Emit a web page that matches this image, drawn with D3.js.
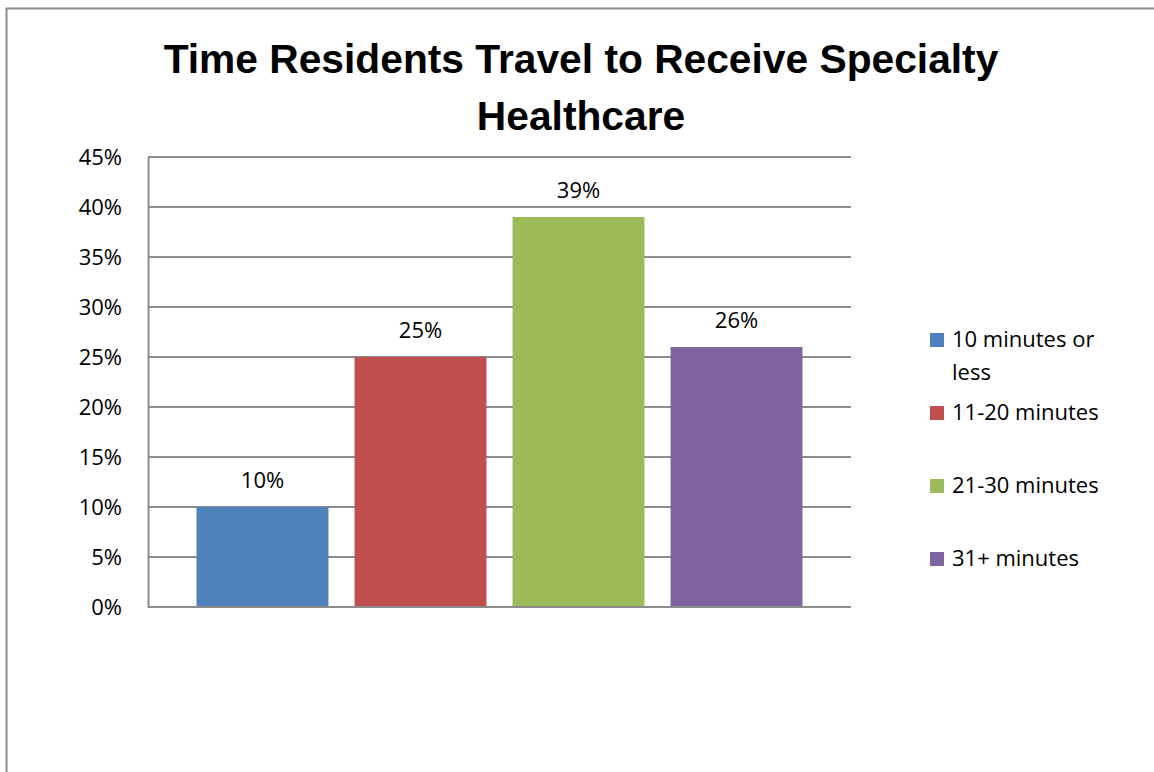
<!DOCTYPE html>
<html>
<head>
<meta charset="utf-8">
<title>Time Residents Travel to Receive Specialty Healthcare</title>
<script src="https://d3js.org/d3.v7.min.js"></script>
<style>
body {
    margin: 0;
    background: #fff;
    font-family: "Open Sans", "Liberation Sans", Arial, sans-serif;
}
svg text { fill: #000; }
</style>
</head>
<body>
<svg id="chart"></svg>
<script>
// chart data
var titleLines = ["Time Residents Travel to Receive Specialty", "Healthcare"];
var series = ["10 minutes or less", "11-20 minutes", "21-30 minutes", "31+ minutes"];
var legendLines = [["10 minutes or", "less"], ["11-20 minutes"], ["21-30 minutes"], ["31+ minutes"]];
var values = [0.10, 0.25, 0.39, 0.26];
var colors = ["#4F81BD", "#C0504D", "#9BBB59", "#8064A2"];
var yTicks = [0, 0.05, 0.10, 0.15, 0.20, 0.25, 0.30, 0.35, 0.40, 0.45];

var width = 1154, height = 772;
var plot = { left: 148, right: 851, top: 157, bottom: 607 };
var labelFont = '"Open Sans", "Liberation Sans", sans-serif';
var labelSize = '22px';

var svg = d3.select('#chart')
    .attr('width', width)
    .attr('height', height);

// outer chart border (runs off the bottom/right of the picture)
svg.append('rect')
    .attr('x', 6.5).attr('y', 8.5)
    .attr('width', width + 10).attr('height', height + 10)
    .attr('fill', '#fff')
    .attr('stroke', '#8c8c8c')
    .attr('stroke-width', 2);

// title, font size fitted so the first line spans the same width as the original
var title = svg.append('g');
var t1 = title.append('text')
    .attr('x', 581).attr('y', 73)
    .attr('text-anchor', 'middle')
    .style('font-family', '"Liberation Sans", Arial, sans-serif')
    .style('font-weight', 'bold')
    .style('font-size', '36px')
    .text(titleLines[0]);
var fs = 36 * 835 / t1.node().getComputedTextLength();
t1.style('font-size', fs + 'px');
title.append('text')
    .attr('x', 581).attr('y', 130)
    .attr('text-anchor', 'middle')
    .style('font-family', '"Liberation Sans", Arial, sans-serif')
    .style('font-weight', 'bold')
    .style('font-size', fs + 'px')
    .text(titleLines[1]);

// scales
var x = d3.scaleBand()
    .domain(series)
    .range([plot.left, plot.right])
    .paddingInner(0.165)
    .paddingOuter(0.307);

var y = d3.scaleLinear()
    .domain([0, 0.45])
    .range([plot.bottom, plot.top]);

// gridlines
svg.append('g')
    .selectAll('line')
    .data(yTicks)
    .enter().append('line')
    .attr('x1', plot.left).attr('x2', plot.right)
    .attr('y1', function (d) { return Math.round(y(d)); })
    .attr('y2', function (d) { return Math.round(y(d)); })
    .attr('stroke', '#8c8c8c')
    .attr('stroke-width', 2);

// y axis labels
var yAxis = d3.axisLeft(y)
    .tickValues(yTicks)
    .tickSize(0)
    .tickPadding(26)
    .tickFormat(d3.format('.0%'));

var ya = svg.append('g')
    .attr('transform', 'translate(' + plot.left + ',0)')
    .call(yAxis);
ya.select('.domain')
    .attr('stroke', '#8c8c8c')
    .attr('stroke-width', 2);
ya.selectAll('text')
    .style('font-family', labelFont)
    .style('font-size', labelSize)
    .attr('fill', '#000');

// bars
svg.append('g')
    .selectAll('rect')
    .data(values)
    .enter().append('rect')
    .attr('x', function (d, i) { return x(series[i]); })
    .attr('width', x.bandwidth())
    .attr('y', function (d) { return y(d); })
    .attr('height', function (d) { return y(0) - y(d); })
    .attr('fill', function (d, i) { return colors[i]; });

// bottom axis line drawn over bars
svg.append('line')
    .attr('x1', plot.left).attr('x2', plot.right)
    .attr('y1', plot.bottom).attr('y2', plot.bottom)
    .attr('stroke', '#8c8c8c')
    .attr('stroke-width', 2);

// data labels
svg.append('g')
    .selectAll('text')
    .data(values)
    .enter().append('text')
    .attr('x', function (d, i) { return x(series[i]) + x.bandwidth() / 2; })
    .attr('y', function (d) { return y(d) - 19; })
    .attr('text-anchor', 'middle')
    .style('font-family', labelFont)
    .style('font-size', labelSize)
    .text(function (d) { return d3.format('.0%')(d); });

// legend
var legend = svg.append('g')
    .attr('transform', 'translate(930,333)');

var item = legend.selectAll('g')
    .data(legendLines)
    .enter().append('g')
    .attr('transform', function (d, i) { return 'translate(0,' + (i * 73) + ')'; });

item.append('rect')
    .attr('width', 14).attr('height', 14)
    .attr('fill', function (d, i) { return colors[i]; });

item.append('text')
    .style('font-family', labelFont)
    .style('font-size', labelSize)
    .selectAll('tspan')
    .data(function (d) { return d; })
    .enter().append('tspan')
    .attr('x', 22)
    .attr('y', function (d, j) { return 14 + j * 33; })
    .text(function (d) { return d; });
</script>
</body>
</html>
